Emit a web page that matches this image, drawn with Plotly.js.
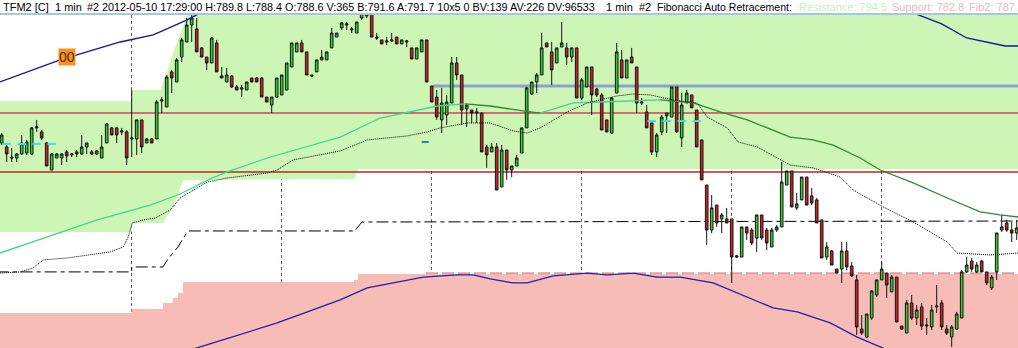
<!DOCTYPE html>
<html>
<head>
<meta charset="utf-8">
<script src="https://cdn.plot.ly/plotly-3.0.1.min.js"></script>
<style>html,body{margin:0;padding:0;background:#fff;}#chart{width:1018px;height:348px;}</style>
</head>
<body>
<div id="chart"></div>
<script>
// ---- 1-minute bars (TFM2), OHLC prices ----
const openP = [
790.94,790.69,790.06,790.00,790.25,790.31,790.25,791.88,791.63,790.94,
789.25,790.00,790.00,790.38,790.19,790.38,790.25,790.69,790.38,790.25,
790.00,790.94,791.88,791.88,791.63,791.63,791.19,791.19,792.38,790.94,
791.19,791.19,793.56,793.19,795.38,794.75,796.31,797.25,798.31,798.06,
796.88,796.31,795.94,797.19,795.13,794.75,795.13,794.44,794.31,794.25,
795.00,795.00,795.00,793.81,793.31,793.81,793.94,794.25,795.69,796.63,
797.19,796.63,795.19,795.38,796.13,796.13,796.88,797.56,798.13,798.31,
798.00,797.81,798.75,798.88,799.06,797.56,797.38,797.25,797.31,797.56,
797.13,797.25,796.88,796.19,796.63,797.38,794.50,793.81,792.38,792.69,
793.44,795.94,795.19,793.06,793.00,792.81,792.81,790.69,790.38,790.69,
788.19,790.50,789.25,789.50,790.31,791.88,794.00,794.75,795.19,797.19,
796.63,795.94,796.94,796.88,796.31,796.88,793.75,794.44,795.69,794.31,
793.94,792.38,791.56,794.06,796.13,795.00,796.31,795.69,793.44,792.88,
792.19,790.38,791.63,792.63,792.56,794.44,791.25,793.44,793.94,793.00,
791.13,788.31,785.50,787.06,786.19,786.19,786.19,783.81,783.81,785.69,
785.50,785.00,786.44,785.50,784.44,785.50,785.69,788.31,789.19,786.88,
787.38,788.81,787.63,787.38,786.13,783.81,784.19,783.06,783.06,784.19,
783.25,782.38,779.31,778.81,780.00,781.44,782.38,782.81,781.63,782.56,
779.50,779.06,780.94,780.00,780.69,779.50,779.44,780.69,780.94,779.31,
778.81,779.31,780.00,782.88,783.56,782.88,783.56,782.88,781.88,782.88,
785.50,785.94,785.50,785.31];
const highP = [
791.56,790.81,790.63,790.31,791.44,791.13,791.94,792.38,791.75,791.00,
790.31,790.31,790.31,790.50,790.31,790.50,791.44,790.94,790.50,790.50,
791.44,792.19,791.94,791.94,791.88,791.75,794.25,792.38,792.38,791.25,
791.25,793.63,793.81,795.19,795.50,796.25,797.50,798.75,798.94,798.75,
796.94,796.31,797.56,797.38,795.69,795.63,795.19,794.56,794.56,794.75,
795.00,795.06,795.06,793.81,793.81,795.00,795.19,795.94,797.19,797.19,
797.38,796.63,795.19,796.13,796.75,796.63,798.13,797.81,798.50,798.50,
798.19,798.50,799.06,799.06,799.06,797.81,797.38,797.56,797.81,797.56,
797.38,797.38,796.88,796.88,797.38,797.38,794.50,794.25,794.38,793.94,
796.31,796.31,795.19,793.31,793.00,793.13,792.81,790.81,790.94,790.94,
790.81,790.50,789.50,790.19,791.88,794.44,794.75,795.31,797.81,797.19,
797.25,796.88,798.50,797.19,796.88,796.88,795.00,795.69,795.69,794.38,
794.06,792.38,793.81,797.19,796.75,796.13,796.88,795.69,793.75,793.31,
792.19,791.56,792.69,792.81,794.44,794.44,794.06,794.25,793.94,793.00,
791.13,788.31,787.69,787.06,786.56,786.88,786.19,783.94,785.69,785.69,
785.63,786.44,786.44,785.63,785.63,785.81,789.75,789.19,789.19,787.81,
788.81,788.81,788.13,787.50,786.13,784.75,784.25,783.06,784.75,784.75,
783.50,782.69,780.19,780.25,781.75,782.38,783.50,782.81,782.69,782.56,
779.50,781.13,781.44,780.81,780.94,780.00,780.81,782.06,781.13,779.56,
779.56,780.38,783.00,783.81,783.75,783.50,783.63,782.88,782.69,785.31,
786.44,786.13,786.00,786.13];
const lowP = [
790.81,789.75,789.75,789.75,790.19,790.19,790.19,791.63,791.13,789.50,
789.25,790.00,789.56,789.75,790.06,790.06,790.19,790.25,790.19,790.19,
790.00,790.94,791.44,790.94,791.44,789.56,790.06,790.19,790.31,790.94,
790.94,791.19,792.81,793.19,794.06,794.75,796.00,797.25,797.25,796.63,
796.31,795.50,795.94,795.38,795.00,794.75,794.38,794.25,793.81,794.25,
794.75,794.75,793.81,793.50,792.81,793.75,793.94,794.25,795.69,796.63,
796.63,795.19,795.06,795.38,796.13,796.13,796.88,797.56,798.00,798.00,
797.81,797.81,798.63,798.75,797.56,797.38,797.13,797.06,797.25,797.13,
797.13,796.94,796.19,796.19,796.63,794.75,793.50,792.38,791.56,792.06,
793.44,794.88,792.06,791.94,792.19,792.19,790.38,789.38,790.38,788.00,
788.19,788.63,788.81,789.50,790.31,791.88,793.94,794.06,795.19,796.94,
794.56,795.94,796.94,795.81,796.00,793.75,793.63,794.44,792.69,793.81,
791.75,791.63,791.50,794.06,795.00,795.00,795.94,792.81,793.31,791.88,
790.19,790.06,791.44,791.56,792.56,791.56,790.69,793.44,793.13,790.69,
788.63,784.56,785.31,785.69,785.31,785.94,782.19,783.75,783.81,784.88,
784.56,784.13,784.88,784.25,784.44,785.38,785.69,788.31,786.94,786.75,
787.38,787.06,787.06,785.94,783.75,783.63,783.31,782.81,782.19,783.00,
782.56,778.94,778.94,778.75,779.88,781.31,782.38,781.25,781.63,779.75,
779.25,779.06,779.88,779.56,779.25,778.94,779.25,780.31,779.25,778.94,
778.19,779.25,780.00,782.81,782.88,782.81,782.88,782.06,781.75,782.38,
785.38,785.38,784.75,784.88];
const closeP = [
791.44,790.25,790.00,790.25,790.94,791.00,791.88,791.94,791.25,789.50,
790.25,790.25,790.25,790.13,790.25,790.25,790.69,790.94,790.25,790.44,
790.69,792.13,791.44,791.44,791.69,790.00,791.25,792.38,790.69,791.19,
790.94,793.50,793.63,795.06,795.00,796.13,797.38,798.31,798.75,796.63,
796.31,795.94,797.50,795.38,795.00,795.19,794.44,794.25,794.38,794.75,
794.75,794.75,793.81,793.50,793.81,795.00,795.19,795.94,797.19,797.19,
796.63,795.19,795.13,796.13,796.31,796.63,797.81,797.81,798.44,798.38,
798.06,798.50,799.06,799.00,797.56,797.50,797.13,797.31,797.38,797.13,
797.38,797.31,796.19,796.88,797.38,794.75,793.50,792.56,793.44,793.50,
795.94,795.19,793.00,793.31,792.81,792.88,790.38,790.19,790.69,788.00,
790.50,789.25,789.50,790.00,791.88,794.38,794.75,795.19,796.88,796.94,
795.50,796.88,797.19,796.31,796.88,793.75,794.88,795.69,793.94,793.94,
791.75,791.63,793.75,796.63,795.00,796.13,795.94,793.44,793.50,791.88,
790.38,791.44,792.56,792.81,794.44,791.63,793.31,794.06,793.13,790.69,
788.63,785.50,786.88,785.94,786.44,785.94,783.81,783.88,785.69,785.31,
784.69,786.44,785.00,784.69,785.50,785.69,788.50,789.19,786.94,787.13,
788.81,787.06,787.19,785.94,783.75,784.44,783.31,782.81,784.19,783.19,
782.63,779.44,779.06,780.25,781.69,782.38,783.06,782.06,782.56,779.75,
779.31,780.94,780.00,780.50,779.50,779.56,780.50,780.75,779.44,779.06,
779.44,780.25,782.88,783.31,783.06,783.31,782.88,782.19,782.56,785.31,
785.69,785.50,785.31,785.63];

// ---- indicator lines (bar index, price) ----
const upperBandK = [-0.34,11.7,23.7,30.3,37.1,39.7,46,70,150,175,182.3,188,193,200.7,203.3];
const upperBandP = [794.75,796.13,797.25,797.69,798.63,799.06,800.10,801.50,801.20,799.95,799.06,798.38,797.50,797.00,797.00];
const lowerBandK = [-0.34,20,39.7,55.1,67.7,73.1,84.3,91.1,94.3,97.7,102.3,105.1,110.3,117.1,121.1,126.3,131.1,135.7,142.3,154.3,159.1,165.7,171.1,175.7,185,203.3];
const lowerBandP = [774.3,776.3,778.19,779.69,781.13,781.88,782.56,782.69,782.69,782.44,782.19,782.19,782.63,782.81,782.69,782.81,782.56,782.56,782.19,780.63,780.38,779.69,778.81,778.19,777.0,774.6];
const maK = [-0.34,19.1,29.7,35.7,41.7,45.1,53.1,67.7,75.7,80.3,83.7,87.1,92.7,97.7,104.3,107.7,111.1,114.3,119.7,127.7,131.7,138.3,143.7,149.1,157.7,162.3,166.3,171.7,175.7,182.3,189.1,195.7,199.7,203.3];
const maP = [784.06,786.13,787.06,787.75,788.69,789.13,790.00,791.31,792.50,792.81,793.06,793.25,793.38,793.25,792.94,792.81,793.13,793.44,793.50,793.56,793.63,793.44,792.88,792.38,791.31,791.13,790.81,790.00,789.25,788.44,787.50,786.63,786.44,786.31];
const dotK = [-0.34,3.7,6.3,8.3,13.1,21.7,24.3,25.3,26.1,28.3,30.7,33.7,35.7,41.1,45.1,53.1,55.1,58.3,67.7,73.1,81.1,85.1,87.7,93.1,97.7,102.3,105.1,107.7,113.1,117.1,123.1,126.3,129.7,134.3,139.1,141.1,145.1,147.3,151.1,155.7,157.7,162.3,165.1,167.7,170.3,173.7,176.3,182.3,189.1,191.1,197.7,203.3];
const dotP = [782.81,782.88,783.13,783.63,783.75,784.13,784.44,785.06,785.94,786.13,786.25,786.75,787.50,788.50,788.75,789.06,789.25,789.88,790.44,791.13,791.38,791.63,791.88,792.19,792.19,791.69,791.56,791.88,792.88,793.44,793.88,794.00,793.94,793.63,793.44,792.56,791.88,791.00,790.69,789.88,789.56,789.38,789.06,788.81,788.00,787.38,786.94,786.00,784.75,784.06,783.94,784.06];

// ---- Fibonacci zones ----
const greenTopK = [-1,26,26,31.66,32.66,34.26,36.26,36.86,36.86,204];
const greenTopP = [793.56,793.56,794.25,794.25,795.06,796.56,798.19,798.94,799.6,799.6];
const greenBotK = [204,71.26,70.66,37.06,36.26,34.66,32.26,26,26,-1];
const greenBotP = [789.31,789.31,788.69,788.63,788.63,787.19,785.94,785.94,785.38,785.38];
const pinkTopK = [-1,26,26,32.26,32.26,34.26,34.26,35.26,35.26,36.26,36.26,70.46,70.46,71.26,71.26,204];
const pinkTopP = [780.31,780.31,780.56,780.56,780.94,780.94,781.25,781.25,781.56,781.56,782.25,782.25,782.38,782.38,782.75,782.75];
const midK = [-1,26,26,32.26,33.26,35.26,36.46,37.26,70.66,71.06,72.06,204];
const midP = [782.88,782.88,783.19,783.19,783.69,784.44,785.06,785.44,785.44,785.63,786.0,786.06];
const resistance = 794.5, support = 782.8, redLevel1 = 792.81, redLevel2 = 789.13;
const resistanceStartK = 86.26, supportStartK = 84.86;
const sessionTicks = [26,56,86,116,146,176];
const cyanK = [1,4,7,10,130,133,136,139];
const cyanP = [790.88,790.88,790.88,790.88,792.31,792.31,792.31,792.31];
const tealK = [84.7], tealP = [791.0];

// ---- header texts ----
const headerTexts = ['TFM2 [C]', '1 min',
  '#2 2012-05-10 17:29:00 H:789.8 L:788.4 O:788.6 V:365 B:791.6 A:791.7 10x5 0 BV:139 AV:226 DV:96533',
  '1 min', '#2', 'Fibonacci Auto Retracement:', 'Resistance: 794.5', 'Support: 782.8', 'Fib2: 787.25'];
const headerColors = ['#000','#000','#000','#000','#000','#000','#c6efb6','#f3b6b6','#f3b6b6'];

const barIdx = openP.map((_, i) => i);

function pathFrom(ks, ps, close) {
  let s = '';
  ks.forEach((k, i) => { s += (i === 0 ? 'M' : 'L') + k + ',' + ps[i]; });
  return s + (close ? 'Z' : '');
}

const shapes = [];
shapes.push({type:'path', xref:'x', yref:'y', layer:'between',
  path: pathFrom(greenTopK.concat(greenBotK), greenTopP.concat(greenBotP), true),
  fillcolor:'#cdf6b6', line:{width:0}});
shapes.push({type:'path', xref:'x', yref:'y', layer:'between',
  path: pathFrom(pinkTopK.concat([204,-1]), pinkTopP.concat([777,777]), true),
  fillcolor:'#f8bcb6', line:{width:0}});
shapes.push({type:'line', xref:'x', yref:'y', layer:'between', x0:-1, x1:204, y0:redLevel1, y1:redLevel1, line:{color:'#d0405c', width:1.5}});
shapes.push({type:'line', xref:'x', yref:'y', layer:'between', x0:-1, x1:204, y0:redLevel2, y1:redLevel2, line:{color:'#b52a1e', width:1.5}});
shapes.push({type:'line', xref:'x', yref:'y', layer:'between', x0:resistanceStartK, x1:204, y0:resistance, y1:resistance, line:{color:'#8aa2d2', width:3}});
shapes.push({type:'line', xref:'x', yref:'y', layer:'between', x0:supportStartK, x1:204, y0:support, y1:support, line:{color:'#e3a0a0', width:2, dash:'12px,4px'}});
shapes.push({type:'path', xref:'x', yref:'y', layer:'between', path: pathFrom(midK, midP, false),
  line:{color:'#000000', width:1, dash:'12px,4px,4px,4px'}, fillcolor:'rgba(0,0,0,0)'});
shapes.push({type:'line', xref:'paper', yref:'paper', x0:0, x1:1, y0:1+1/333, y1:1+1/333, line:{color:'#4a8fcf', width:1}});

const traces = [];
traces.push({type:'candlestick', x:barIdx, open:openP, high:highP, low:lowP, close:closeP,
  increasing:{line:{color:'#151515', width:1}, fillcolor:'#33cc33'},
  decreasing:{line:{color:'#151515', width:1}, fillcolor:'#cc2222'},
  whiskerwidth:0, hoverinfo:'skip', showlegend:false});

// moving average coloured by slope
let seg = {k:[maK[0]], p:[maP[0]], up: maP[1] >= maP[0]};
const segs = [];
for (let i = 1; i < maK.length; i++) {
  const up = maP[i] >= maP[i-1];
  if (up !== seg.up) { segs.push(seg); seg = {k:[maK[i-1]], p:[maP[i-1]], up:up}; }
  seg.k.push(maK[i]); seg.p.push(maP[i]);
}
segs.push(seg);
segs.forEach(s => traces.push({type:'scatter', mode:'lines', x:s.k, y:s.p, hoverinfo:'skip',
  line:{color: s.up ? '#3ed88c' : '#2e8a2e', width:1.3}}));

traces.push({type:'scatter', mode:'lines', x:dotK, y:dotP, hoverinfo:'skip', line:{color:'#000', width:1, dash:'1px,1px'}});
traces.push({type:'scatter', mode:'lines', x:upperBandK, y:upperBandP, hoverinfo:'skip', line:{color:'#14149a', width:1.3}});
traces.push({type:'scatter', mode:'lines', x:lowerBandK, y:lowerBandP, hoverinfo:'skip', line:{color:'#1f1fb0', width:1.3}});
traces.push({type:'scatter', mode:'markers', x:cyanK, y:cyanP, hoverinfo:'skip',
  marker:{symbol:'line-ew', size:6, line:{color:'#38e2ea', width:2}}});
traces.push({type:'scatter', mode:'markers', x:tealK, y:tealP, hoverinfo:'skip',
  marker:{symbol:'line-ew', size:5, line:{color:'#2a8a8a', width:2}}});

const F = 'Liberation Sans, Arial, sans-serif';
const headerX = [2, 54, 86, 605, 638, 656, 798, 891, 968];
const headerSize = [11, 11, 10.8, 11, 11, 10.5, 11, 11, 11];
const annotations = headerTexts.map((t, i) => ({xref:'paper', yref:'paper', x:headerX[i]/1018, y:1+8/333,
  xanchor:'left', yanchor:'middle', text:t, showarrow:false, borderpad:0,
  font:{family:F, size:headerSize[i], color:headerColors[i]}}));
annotations.push({xref:'x', yref:'y', x:12.96, y:796.31, text:'00', showarrow:false, bgcolor:'#f7931e', borderpad:0,
   font:{family:'Liberation Sans Narrow, Arial Narrow, sans-serif', size:14, color:'#5a2d00'}});

const layout = {
  width:1018, height:348, margin:{l:0, r:0, t:15, b:0, pad:0},
  paper_bgcolor:'#ffffff', plot_bgcolor:'#ffffff', showlegend:false, boxgap:0.25,
  xaxis:{range:[-0.34, 203.26], tickvals:sessionTicks, showticklabels:false, ticks:'',
    showgrid:true, gridcolor:'#6e5050', gridwidth:1, griddash:'3px,3px',
    zeroline:false, showline:false, rangeslider:{visible:false}, fixedrange:true},
  yaxis:{range:[778.125, 798.9375], showgrid:false, zeroline:false, showticklabels:false, ticks:'', showline:false, fixedrange:true},
  shapes:shapes, annotations:annotations
};
Plotly.newPlot('chart', traces, layout, {staticPlot:true, displayModeBar:false});
</script>
</body>
</html>
